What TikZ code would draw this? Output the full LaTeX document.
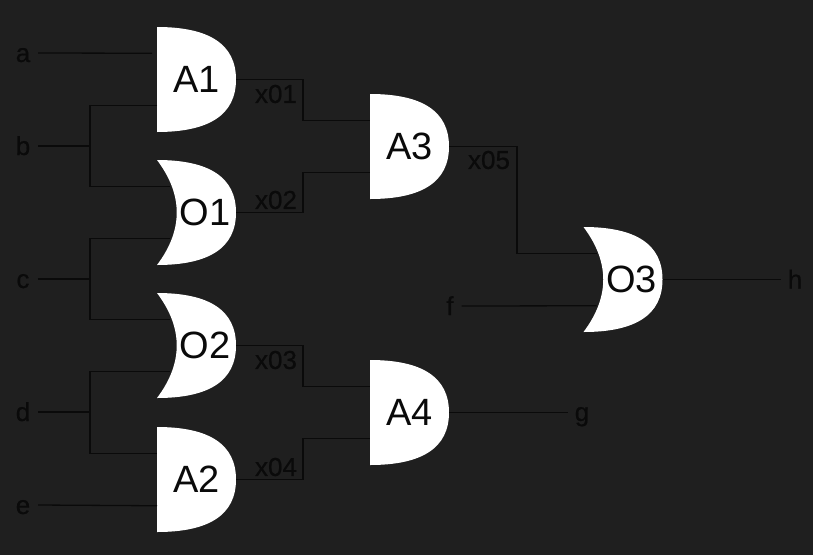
\documentclass[tikz,border=0pt]{standalone}
\usepackage{fontspec}
\setmainfont{Liberation Sans}
\newfontfamily\wireFamily[FakeBold=0.5]{Liberation Sans}
\definecolor{sheet}{HTML}{1F1F1F}
\definecolor{ink}{HTML}{0A0A0A}
\usetikzlibrary{calc}
\newcommand{\gateFont}[0]{\fontsize{38}{40}\selectfont}
\newcommand{\wireFont}[0]{\wireFamily\fontsize{26}{28}\selectfont}
\tikzset{
  gate/.style={minimum width=79pt,minimum height=105pt,inner sep=0pt,outer sep=0pt,font=\gateFont,text=ink},
  andgate/.style={gate},
  orgate/.style={gate,execute at begin node={\hspace{17pt}}},
  andbody/.pic={
    \fill[white]
      (-39.5,52.5) .. controls (13.17,52.5) and (39.5,35) .. (39.5,0)
      .. controls (39.5,-35) and (13.17,-52.5) .. (-39.5,-52.5) -- cycle;},
  orbody/.pic={
    \fill[white]
      (-39.5,52.5) .. controls (13.17,52.5) and (39.5,35) .. (39.5,0)
      .. controls (39.5,-35) and (13.17,-52.5) .. (-39.5,-52.5)
      .. controls (-13.17,-17.5) and (-13.17,17.5) .. (-39.5,52.5) -- cycle;},
  pinname/.style={font=\wireFont,text=ink,inner sep=0pt,outer sep=0pt,text height=18pt,text depth=0pt},
  wirename/.style={font=\wireFont,text=ink,inner sep=0pt},
  wire/.style={draw=ink,line width=1.3pt}
}

\begin{document}
\begin{tikzpicture}[x=1pt,y=-1pt]
  \fill[sheet] (0,0) rectangle (813,555);

  % gates
  \foreach \g/\kind/\pos in {A1/and/{196.5,79.5},O1/or/{196.5,212.5},O2/or/{196.5,345.5},A2/and/{196.5,479.5},
                             A3/and/{409.5,146.5},A4/and/{409.5,412.5},O3/or/{623,279.5}} {
    \pic at (\pos) {\kind body};
    \node[\kind gate] (\g) at (\pos) {\g};
  }

  % input pins
  \foreach \g in {A1,A2,A3,A4} {
    \coordinate (\g up) at ($(\g.north west)!.25!(\g.south west)$);
    \coordinate (\g lo) at ($(\g.north west)!.75!(\g.south west)$);
  }
  \foreach \g in {O1,O2,O3} {
    \coordinate (\g up) at ($(\g.north west)!.25!(\g.south west)+(13,0)$);
    \coordinate (\g lo) at ($(\g.north west)!.75!(\g.south west)+(13,0)$);
  }

  % inputs and outputs
  \node[pinname] (a) at (23,53) {a};
  \node[pinname] (b) at (23,146) {b};
  \node[pinname] (c) at (23,279) {c};
  \node[pinname] (d) at (23,412) {d};
  \node[pinname] (e) at (23,505) {e};
  \node[pinname] (f) at (450,306) {f};
  \node[pinname] (g) at (582,412) {g};
  \node[pinname] (h) at (795,279.5) {h};

  % names of the inner wires
  \node[wirename] (x01) at (276,94) {x01};
  \node[wirename] (x02) at (276,200) {x02};
  \node[wirename] (x03) at (276,360) {x03};
  \node[wirename] (x04) at (276,467) {x04};
  \node[wirename] (x05) at (489,160) {x05};

  % forks
  \coordinate (bfork) at (90,146);
  \coordinate (cfork) at (90,279);
  \coordinate (dfork) at (90,412);

  \draw[wire] ([xshift=8pt]a.east) -- ([xshift=-5pt]A1up);
  \draw[wire] ([xshift=8pt]b.east) -- (bfork);
  \draw[wire] (A1lo) -| (bfork) |- (O1up);
  \draw[wire] ([xshift=8pt]c.east) -- (cfork);
  \draw[wire] (O1lo) -| (cfork) |- (O2up);
  \draw[wire] ([xshift=8pt]d.east) -- (dfork);
  \draw[wire] (O2lo) -| (dfork) |- (A2up);
  \draw[wire] ([xshift=8pt]e.east) -- (A2lo);
  \draw[wire] (A1.east) -- ++(67,0) |- (A3up);
  \draw[wire] (O1.east) -- ++(67,0) |- (A3lo);
  \draw[wire] (O2.east) -- ++(67,0) |- (A4up);
  \draw[wire] (A2.east) -- ++(67,0) |- (A4lo);
  \draw[wire] (A3.east) -- ++(68,0) |- (O3up);
  \draw[wire] ([xshift=8pt]f.east) -- (O3lo);
  \draw[wire] (A4.east) -- ([xshift=-7pt]g.west |- A4.east);
  \draw[wire] (O3.east) -- ([xshift=-7pt]h.west |- O3.east);
\end{tikzpicture}
\end{document}
